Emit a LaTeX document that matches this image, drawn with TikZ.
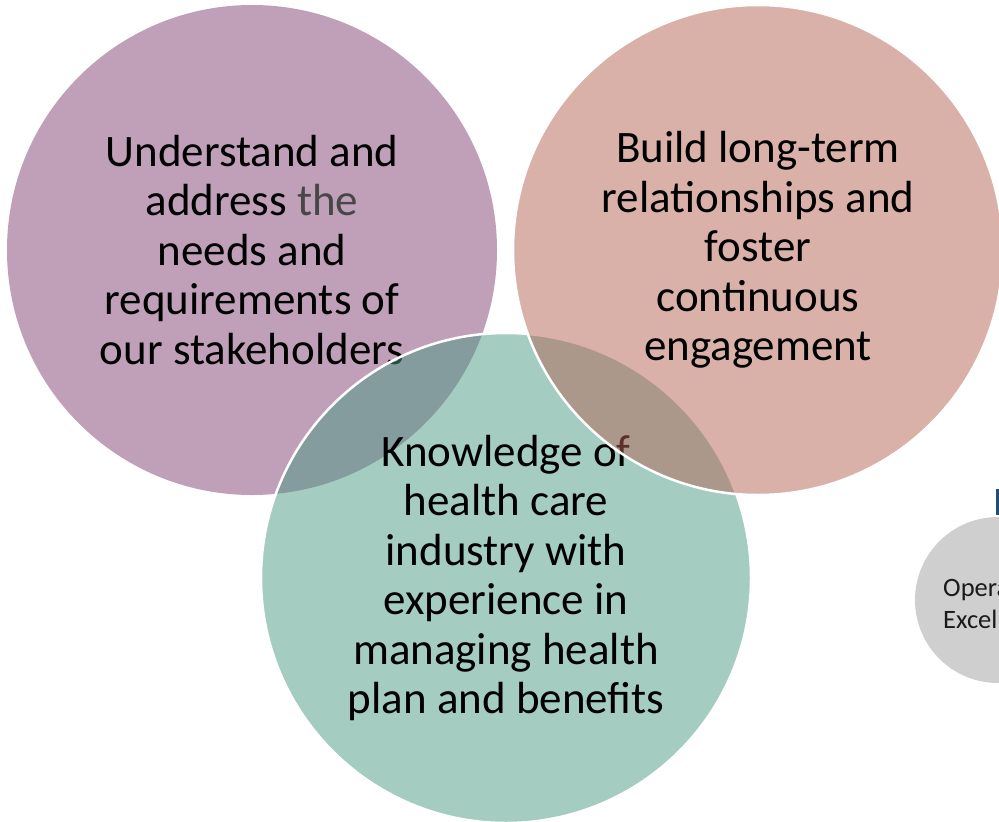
\documentclass[tikz,border=0pt]{standalone}
\usepackage{fontspec}
\setmainfont{Carlito}
\usepackage{xcolor}
\usepackage{tikz}
\usetikzlibrary{positioning}
\definecolor{vennplum}{HTML}{834175}
\definecolor{vennrose}{HTML}{B56555}
\definecolor{venngreen}{HTML}{4B9B85}
\definecolor{venngray}{HTML}{D0CFD0}
\definecolor{vennink}{HTML}{1A1A1A}
\definecolor{vennblue}{HTML}{1F4E79}

\begin{document}
\begin{tikzpicture}[
  x=1pt, y=-1pt,
  venn/.style={circle, inner sep=0pt, minimum size=490pt, align=center,
    fill opacity=0.5, text opacity=1, text=black,
    font=\fontsize{45}{49.5}\selectfont},
  rim/.style={draw=white, line width=2.5pt},
  side/.style={circle, inner sep=0pt, minimum size=166pt, fill=venngray},
  sidetext/.style={inner sep=0pt, align=left, text=vennink,
    font=\fontsize{26.5}{32}\selectfont}
]
\useasboundingbox (0,0) rectangle (999,822);
\fill[white] (0,0) rectangle (999,822);

% the three overlapping goals
\node[venn, fill=vennplum] (needs) at (252,250)
  {Understand and\\address {\color{black!72}the}\\needs and\\requirements of\\our stakeholders};
\node[venn, rim, fill=venngreen] (know) at (506,578)
  {Knowledge of\\health care\\industry with\\experience in\\managing health\\plan and benefits};
\node[venn, rim, fill=vennrose] (bond) at (758,250)
  {Build long-term\\relationships and\\foster\\continuous\\engagement};

% next group, cut off at the edge
\node[side] (ops) at (998,600) {};
\node[sidetext, anchor=west] (opstext) at (943,603) {Operational\\Excellence};
\fill[vennblue] (996,489) rectangle (999,515);
\end{tikzpicture}
\end{document}
